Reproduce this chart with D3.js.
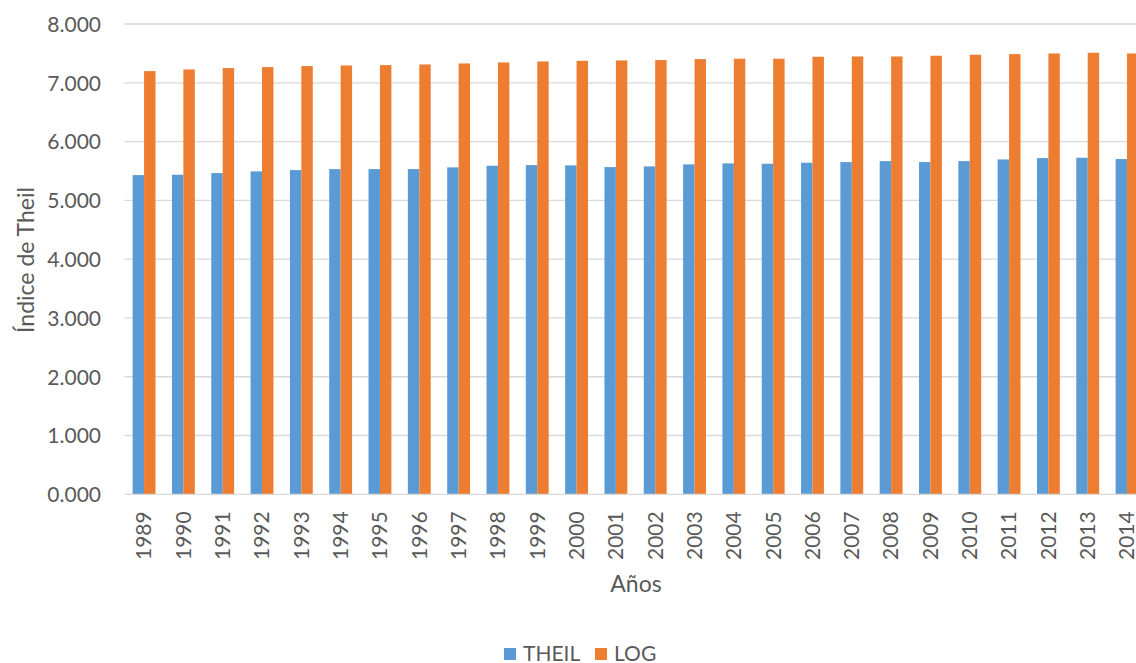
<!DOCTYPE html>
<html>
<head>
<meta charset="utf-8">
<script src="https://cdn.jsdelivr.net/npm/d3@7"></script>
<style>
  html, body { margin: 0; padding: 0; background: #fff; overflow: hidden; }
  svg { display: block; }
  text { font-family: Lato, "Open Sans", sans-serif; fill: #595959; }
</style>
</head>
<body>
<svg id="chart" width="1136" height="663"></svg>
<script>
// Years and index values per series
const years = ["1989","1990","1991","1992","1993","1994","1995","1996","1997","1998","1999","2000","2001",
               "2002","2003","2004","2005","2006","2007","2008","2009","2010","2011","2012","2013","2014"];
const theil = [5.430,5.436,5.464,5.493,5.515,5.532,5.532,5.532,5.561,5.589,5.600,5.595,5.566,
               5.578,5.612,5.629,5.623,5.640,5.651,5.668,5.651,5.668,5.696,5.719,5.725,5.702];
const logIdx = [7.199,7.227,7.250,7.267,7.284,7.295,7.301,7.312,7.329,7.346,7.363,7.374,7.380,
                7.386,7.403,7.409,7.409,7.443,7.448,7.448,7.460,7.477,7.488,7.499,7.511,7.499];
const seriesNames = ["THEIL", "LOG"];
const seriesColors = ["#5B9BD5", "#ED7D31"];
const yTicks = [0,1,2,3,4,5,6,7,8];

const svg = d3.select("#chart");
const plotL = 124.4, plotR = 1146.7, plotT = 24, plotB = 494.3;

const x = d3.scaleBand().domain(years).range([plotL, plotR]).paddingInner(0).paddingOuter(0);
const xs = d3.scaleBand().domain(seriesNames).range([0, x.bandwidth()]).paddingInner(0).paddingOuter(0.72);
const y = d3.scaleLinear().domain([0, 8]).range([plotB, plotT]);
const fmt = v => d3.format(".3f")(v);

// Horizontal gridlines
svg.append("g").selectAll("line").data(yTicks.slice(1)).join("line")
  .attr("x1", plotL).attr("x2", plotR)
  .attr("y1", d => y(d)).attr("y2", d => y(d))
  .attr("stroke", "#d9d9d9").attr("stroke-width", 1.3);

// Bars
const rows = years.map((yr, i) => ({ yr, vals: [theil[i], logIdx[i]] }));
const groups = svg.append("g").selectAll("g").data(rows).join("g")
  .attr("transform", d => `translate(${x(d.yr)},0)`);
groups.selectAll("rect").data(d => d.vals.map((v, k) => ({ v, k }))).join("rect")
  .attr("x", d => xs(seriesNames[d.k]))
  .attr("width", xs.bandwidth())
  .attr("y", d => y(d.v))
  .attr("height", d => y(0) - y(d.v))
  .attr("fill", d => seriesColors[d.k]);

// Category axis baseline
svg.append("line").attr("x1", plotL).attr("x2", plotR)
  .attr("y1", y(0)).attr("y2", y(0))
  .attr("stroke", "#d9d9d9").attr("stroke-width", 1.3);

// Y axis labels
const yAxis = d3.axisLeft(y).tickValues(yTicks).tickFormat(fmt).tickSize(0).tickPadding(0);
const gy = svg.append("g").attr("transform", `translate(101,0)`).call(yAxis);
gy.select(".domain").remove();
gy.selectAll("text").attr("font-size", 21).attr("font-family", "Lato, sans-serif").attr("fill", "#595959").attr("dy", "0.35em");

// X axis labels (rotated)
const xAxis = d3.axisBottom(x).tickSize(0).tickPadding(0);
const gx = svg.append("g").attr("transform", `translate(0,${plotB})`).call(xAxis);
gx.select(".domain").remove();
gx.selectAll("text")
  .attr("font-size", 21).attr("font-family", "Lato, sans-serif").attr("fill", "#595959")
  .attr("transform", "rotate(-90)")
  .attr("text-anchor", "end")
  .attr("x", -17).attr("y", 0).attr("dy", "0.35em");

// Axis titles
svg.append("text").attr("x", 636).attr("y", 592).attr("text-anchor", "middle")
  .attr("font-size", 23).text("Años");
svg.append("text").attr("transform", "translate(34,260) rotate(-90)").attr("text-anchor", "middle")
  .attr("font-size", 23).text("Índice de Theil");

// Legend
const legend = svg.append("g").attr("transform", "translate(504,654)");
const items = [{ name: "THEIL", dx: 0 }, { name: "LOG", dx: 91 }];
items.forEach((it, i) => {
  legend.append("rect").attr("x", it.dx).attr("y", -6).attr("width", 12).attr("height", 12)
    .attr("fill", seriesColors[i]);
  legend.append("text").attr("x", it.dx + 19).attr("y", 0).attr("dy", "0.35em")
    .attr("font-size", 21).text(it.name);
});
</script>
</body>
</html>
